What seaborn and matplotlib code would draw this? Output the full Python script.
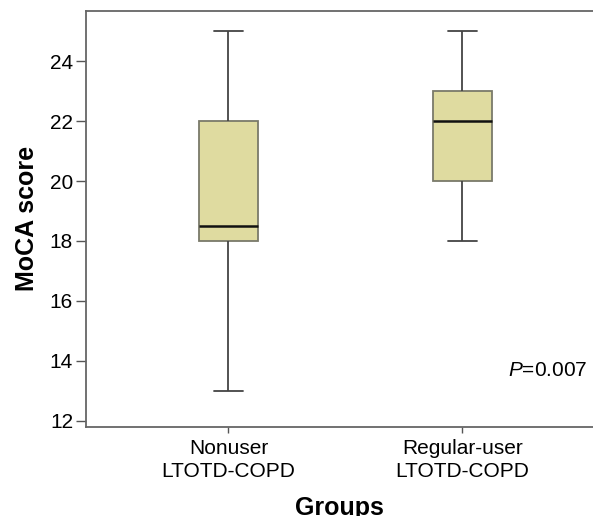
import matplotlib
matplotlib.use("Agg")
import matplotlib.pyplot as plt
import seaborn as sns
import pandas as pd

# data: raw scores chosen so quartiles / whiskers match the figure
groups = ["Nonuser\nLTOTD-COPD", "Regular-user\nLTOTD-COPD"]
nonuser_scores = [13, 18, 18, 18, 19, 22, 22, 25]
regular_scores = [18, 20, 20, 22, 23, 23, 25]
y_ticks = [12, 14, 16, 18, 20, 22, 24]
p_text = "=0.007"

df = pd.DataFrame({
    "group": [groups[0]] * len(nonuser_scores) + [groups[1]] * len(regular_scores),
    "score": nonuser_scores + regular_scores,
})

sns.set_style("ticks")
plt.rcParams["font.family"] = ["Liberation Sans", "DejaVu Sans"]
plt.rcParams["mathtext.fontset"] = "custom"
plt.rcParams["mathtext.rm"] = "Liberation Sans"
plt.rcParams["mathtext.it"] = "Liberation Sans:italic"
plt.rcParams["text.color"] = "black"
plt.rcParams["axes.labelcolor"] = "black"
plt.rcParams["xtick.color"] = "#555555"
plt.rcParams["ytick.color"] = "#555555"
plt.rcParams["xtick.labelcolor"] = "black"
plt.rcParams["ytick.labelcolor"] = "black"

fig = plt.figure(figsize=(5.93, 5.16), dpi=100)
ax = fig.add_axes([0.1442, 0.173, 0.8558, 0.806])

sns.boxplot(data=df, x="group", y="score", order=groups, ax=ax,
            color="#dfdba0", saturation=1, width=0.25, whis=1.5,
            linewidth=1.3, linecolor="#444444",
            boxprops=dict(edgecolor="#7a7a6a"),
            medianprops=dict(color="#111111", linewidth=1.8),
            capwidths=0.123)

ax.set_xlim(-0.611, 1.558)
ax.set_ylim(11.8, 25.68)
ax.set_yticks(y_ticks)
ax.tick_params(axis="y", labelsize=15, length=7, width=1, direction="out", pad=2)
ax.tick_params(axis="x", labelsize=15, length=4.5, width=1, direction="out", pad=4)
for lab in ax.get_xticklabels():
    lab.set_linespacing(1.3)
ax.set_xlabel("Groups", fontsize=18, fontweight="bold", labelpad=11)
ax.set_ylabel("MoCA score", fontsize=18, fontweight="bold", labelpad=8)

for s in ["left", "bottom", "top"]:
    ax.spines[s].set_color("#666666")
    ax.spines[s].set_linewidth(1.3)
ax.spines["right"].set_visible(False)

ax.text(0.988, 0.135, "$\\it{P}$" + p_text, transform=ax.transAxes,
        ha="right", va="center", fontsize=15)

fig.savefig("out.png", dpi=100)
